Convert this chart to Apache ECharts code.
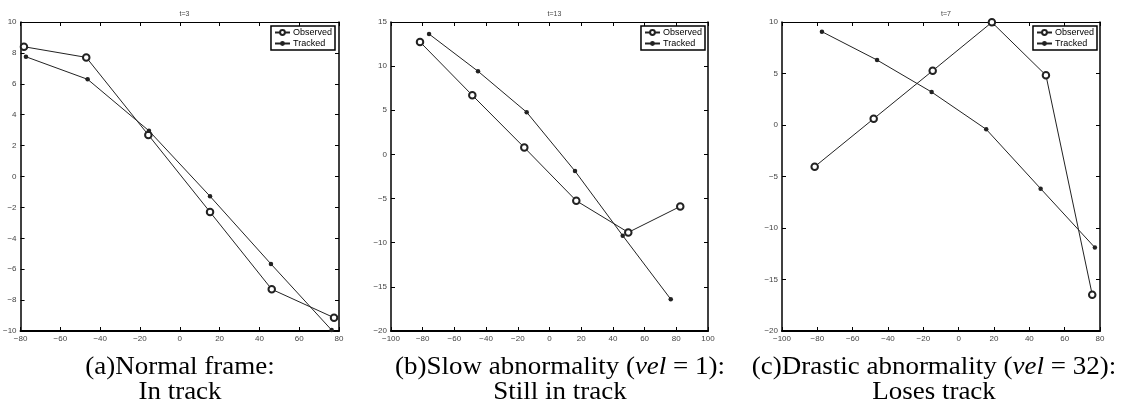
<!DOCTYPE html>
<html><head><meta charset="utf-8">
<script src="https://cdn.jsdelivr.net/npm/echarts@6/dist/echarts.min.js"></script>
<style>html,body{margin:0;padding:0;background:#fff}#c{width:1125px;height:412px}</style>
</head><body><div id="c"></div>
<script>
// Panel (a) t=3
const aObsX = [-78.3, -47.0, -15.8, 15.2, 46.2, 77.5];
const aObsY = [8.40, 7.71, 2.69, -2.30, -7.30, -9.14];
const aTrkX = [-77.3, -46.3, -15.5, 15.2, 45.8, 76.3];
const aTrkY = [7.75, 6.29, 2.96, -1.28, -5.66, -9.94];
// Panel (b) t=13
const bObsX = [-81.7, -48.7, -15.9, 16.9, 49.7, 82.5];
const bObsY = [12.74, 6.70, 0.78, -5.25, -8.83, -5.89];
const bTrkX = [-76.0, -45.1, -14.4, 16.1, 46.2, 76.5];
const bTrkY = [13.64, 9.42, 4.78, -1.89, -9.20, -16.40];
// Panel (c) t=7
const cObsX = [-81.5, -48.1, -14.7, 18.8, 49.4, 75.6];
const cObsY = [-4.05, 0.61, 5.27, 9.97, 4.83, -16.47];
const cTrkX = [-77.4, -46.2, -15.3, 15.6, 46.4, 77.1];
const cTrkY = [9.06, 6.31, 3.20, -0.42, -6.18, -11.90];

const titles = ['t=3', 't=13', 't=7'];
const seriesNames = ['Observed', 'Tracked'];
const xRanges = [[-80, 80, 20], [-100, 100, 20], [-100, 80, 20]];
const yRanges = [[-10, 10, 2], [-20, 15, 5], [-20, 10, 5]];
const captions1 = ['(a)Normal frame:', '(b)Slow abnormality (', '(c)Drastic abnormality ('];
const captionVel = ['', '1', '32'];
const captions2 = ['In track', 'Still in track', 'Loses track'];

const grids = [
  {left: 20, top: 22, width: 319, height: 309},
  {left: 391, top: 22, width: 317, height: 309},
  {left: 782, top: 22, width: 318, height: 309}
];
const legendRight = [790, 420, 28];

const minus = v => String(v).replace('-', '\u2212');
const labelStyle = {fontFamily: 'Liberation Sans', fontSize: 8, color: '#444'};

const xAxis = [], yAxis = [], series = [], legend = [], title = [];
const data = [[aObsX, aObsY, aTrkX, aTrkY], [bObsX, bObsY, bTrkX, bTrkY], [cObsX, cObsY, cTrkX, cTrkY]];

grids.forEach((g, i) => {
  const [xmin, xmax, xint] = xRanges[i];
  const [ymin, ymax, yint] = yRanges[i];
  const tick = {show: true, inside: true, length: 4, lineStyle: {color: '#000'}};
  xAxis.push({type: 'value', gridIndex: i, min: xmin, max: xmax, interval: xint, position: 'bottom',
    axisLine: {show: true, onZero: false, lineStyle: {color: '#000', width: 2}},
    axisTick: tick,
    axisLabel: Object.assign({margin: 4, formatter: minus}, labelStyle),
    splitLine: {show: false}});
  xAxis.push({type: 'value', gridIndex: i, min: xmin, max: xmax, interval: xint, position: 'top',
    axisLine: {show: true, onZero: false, lineStyle: {color: '#000', width: 1}},
    axisTick: tick,
    axisLabel: {show: false}, splitLine: {show: false}});
  yAxis.push({type: 'value', gridIndex: i, min: ymin, max: ymax, interval: yint, position: 'left',
    axisLine: {show: true, onZero: false, lineStyle: {color: '#000', width: 1.5}},
    axisTick: tick,
    axisLabel: Object.assign({margin: 4, formatter: minus}, labelStyle),
    splitLine: {show: false}});
  yAxis.push({type: 'value', gridIndex: i, min: ymin, max: ymax, interval: yint, position: 'right',
    axisLine: {show: true, onZero: false, lineStyle: {color: '#000', width: 1.5}},
    axisTick: tick,
    axisLabel: {show: false}, splitLine: {show: false}});
  const [ox, oy, tx, ty] = data[i];
  series.push({name: seriesNames[0], type: 'line', xAxisIndex: 2 * i, yAxisIndex: 2 * i,
    data: ox.map((x, k) => [x, oy[k]]), symbol: 'emptyCircle', symbolSize: 6.5,
    lineStyle: {color: '#222', width: 1}, itemStyle: {color: '#222', borderWidth: 0.8}, animation: false});
  series.push({name: seriesNames[1], type: 'line', xAxisIndex: 2 * i, yAxisIndex: 2 * i,
    data: tx.map((x, k) => [x, ty[k]]), symbol: 'circle', symbolSize: 4.5,
    lineStyle: {color: '#222', width: 1}, itemStyle: {color: '#222'}, animation: false});
  legend.push({data: seriesNames, orient: 'vertical', right: legendRight[i], top: 26,
    itemWidth: 15, itemHeight: 6, itemGap: 2, padding: [2, 3, 2, 3],
    borderColor: '#000', borderWidth: 1.5, backgroundColor: '#fff',
    textStyle: {fontFamily: 'Liberation Sans', fontSize: 9, color: '#000', padding: [0, 0, 0, -2]}});
  title.push({text: titles[i], left: g.left + g.width / 2, top: 6, textAlign: 'center',
    textStyle: {fontFamily: 'Liberation Sans', fontSize: 7, fontWeight: 'normal', color: '#444'}});
});

const centers = [180, 560, 934];
const capFont = 27;
const graphic = [];
centers.forEach((cx, i) => {
  const rich = {n: {fontFamily: 'Liberation Serif', fontSize: capFont, fill: '#000'},
                it: {fontFamily: 'Liberation Serif', fontSize: capFont, fontStyle: 'italic', fill: '#000'}};
  const t1 = captionVel[i] ? '{n|' + captions1[i] + '}{it|vel}{n| = ' + captionVel[i] + '):}' : '{n|' + captions1[i] + '}';
  graphic.push({type: 'text', x: cx, y: 367, scaleY: 0.93, style: {text: t1, rich: rich, align: 'center', verticalAlign: 'middle',
    fontFamily: 'Liberation Serif', fontSize: capFont, fill: '#000'}});
  graphic.push({type: 'text', x: cx, y: 392, scaleY: 0.93, style: {text: captions2[i], align: 'center', verticalAlign: 'middle',
    fontFamily: 'Liberation Serif', fontSize: capFont, fill: '#000'}});
});

const chart = echarts.init(document.getElementById('c'), null, {renderer: 'canvas'});
chart.setOption({animation: false, backgroundColor: '#fff', grid: grids.map(g => Object.assign({containLabel: false}, g)),
  xAxis, yAxis, series, legend, title, graphic});
</script></body></html>
